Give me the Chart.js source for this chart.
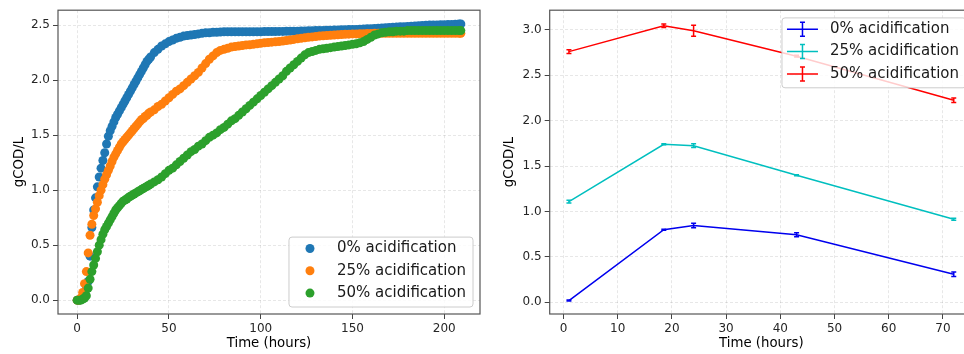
<!DOCTYPE html>
<html>
<head>
<meta charset="utf-8">
<script src="https://cdn.jsdelivr.net/npm/chart.js@4.4.1/dist/chart.umd.min.js"></script>
<style>
    html, body { margin: 0; padding: 0; background: #fff; overflow: hidden; width: 964px; height: 354px; }
    #left { position: absolute; left: 0; top: 0; }
    #right { position: absolute; left: 490px; top: 0; }
</style>
</head>
<body>
<canvas id="left" width="490" height="354"></canvas>
<canvas id="right" width="493" height="354"></canvas>
<script>
// left panel: cumulative gCOD/L over time
const hours = [0,1,2,3,4,5,6,7,8,9,10,11,12,13,14,15,16,17,18,19,20,21,22,23,24,25,26,27,28,29,30,31,32,33,34,35,36,37,38,39,40,
    42,44,46,48,50,52,54,56,58,60,62,64,66,68,70,72,74,76,78,80,
    82,84,86,88,90,92,94,96,98,100,102,104,106,108,110,112,114,116,118,120,
    122,124,126,128,130,132,134,136,138,140,142,144,146,148,150,152,154,156,158,160,
    162,164,166,168,170,172,174,176,178,180,182,184,186,188,190,192,194,196,198,200,
    202,204,206,208,209];

const acid0 = [0.00,0.00,0.01,0.02,0.05,0.10,0.17,0.40,0.66,0.82,0.93,
    1.03,1.12,1.20,1.27,1.34,1.42,1.49,1.54,1.58,1.62,
    1.66,1.69,1.72,1.75,1.78,1.81,1.84,1.87,1.90,1.93,
    1.96,1.99,2.02,2.05,2.08,2.11,2.14,2.17,2.19,2.21,
    2.25,2.28,2.31,2.33,2.35,2.365,2.38,2.39,2.40,2.405,
    2.41,2.415,2.42,2.425,2.43,2.43,2.435,2.435,2.437,2.44,
    2.44,2.44,2.44,2.44,2.44,2.44,2.44,2.44,2.44,2.44,
    2.441,2.441,2.442,2.442,2.443,2.443,2.444,2.444,2.445,2.445,
    2.446,2.447,2.448,2.449,2.45,2.451,2.452,2.453,2.454,2.455,
    2.456,2.457,2.458,2.459,2.46,2.461,2.462,2.464,2.466,2.468,
    2.47,2.472,2.474,2.476,2.478,2.48,2.482,2.484,2.486,2.488,
    2.49,2.492,2.494,2.496,2.498,2.50,2.50,2.502,2.503,2.504,
    2.505,2.506,2.508,2.51,2.51];

const acid25 = [0.00,0.00,0.02,0.07,0.15,0.26,0.43,0.59,0.69,0.77,0.83,
    0.89,0.95,1.00,1.05,1.10,1.14,1.18,1.22,1.26,1.30,
    1.33,1.36,1.39,1.42,1.44,1.46,1.48,1.50,1.52,1.54,
    1.56,1.58,1.60,1.62,1.64,1.65,1.67,1.68,1.70,1.71,
    1.73,1.76,1.78,1.81,1.84,1.87,1.90,1.92,1.95,1.98,
    2.01,2.04,2.07,2.11,2.15,2.19,2.22,2.25,2.27,2.28,
    2.29,2.30,2.305,2.31,2.315,2.32,2.322,2.325,2.33,2.335,
    2.34,2.342,2.345,2.348,2.35,2.355,2.36,2.365,2.37,2.375,
    2.38,2.385,2.39,2.393,2.396,2.40,2.403,2.406,2.408,2.41,
    2.412,2.414,2.416,2.418,2.42,2.42,2.421,2.422,2.423,2.424,
    2.425,2.425,2.425,2.425,2.425,2.425,2.425,2.425,2.425,2.425,
    2.425,2.425,2.425,2.425,2.425,2.425,2.425,2.425,2.425,2.425,
    2.425,2.425,2.425,2.425,2.425];

const acid50 = [0.00,0.00,0.00,0.01,0.02,0.04,0.11,0.19,0.26,0.32,0.38,
    0.44,0.50,0.55,0.60,0.64,0.67,0.70,0.73,0.76,0.79,
    0.82,0.84,0.86,0.88,0.90,0.91,0.92,0.935,0.945,0.955,
    0.965,0.975,0.985,0.995,1.005,1.015,1.025,1.035,1.045,1.055,
    1.075,1.095,1.12,1.15,1.18,1.20,1.23,1.26,1.29,1.32,
    1.35,1.37,1.40,1.42,1.45,1.48,1.50,1.52,1.55,1.57,
    1.60,1.63,1.65,1.68,1.71,1.74,1.77,1.80,1.83,1.86,
    1.89,1.92,1.95,1.98,2.01,2.04,2.08,2.11,2.14,2.17,
    2.20,2.23,2.25,2.26,2.27,2.28,2.285,2.29,2.295,2.30,
    2.305,2.31,2.315,2.32,2.325,2.33,2.34,2.35,2.37,2.39,
    2.41,2.42,2.43,2.435,2.44,2.44,2.445,2.445,2.445,2.45,
    2.45,2.45,2.45,2.45,2.45,2.45,2.45,2.45,2.45,2.45,
    2.45,2.45,2.45,2.45,2.45];

// right panel: measured points with error bars
const sampleHours = [1, 18.5, 24, 43, 72];
const cod0 = [0.02, 0.80, 0.845, 0.745, 0.31];
const err0 = [0.006, 0.006, 0.025, 0.022, 0.025];
const cod25 = [1.11, 1.74, 1.725, 1.40, 0.915];
const err25 = [0.015, 0.005, 0.02, 0.005, 0.012];
const cod50 = [2.76, 3.045, 2.99, 2.71, 2.225];
const err50 = [0.02, 0.02, 0.06, 0.01, 0.025];

const seriesLabels = ['0% acidification', '25% acidification', '50% acidification'];

const leftXTicks = [0, 50, 100, 150, 200];
const leftYTicks = [0, 0.5, 1.0, 1.5, 2.0, 2.5];
const rightXTicks = [0, 10, 20, 30, 40, 50, 60, 70];
const rightYTicks = [0, 0.5, 1.0, 1.5, 2.0, 2.5, 3.0];

const FONT = '"DejaVu Sans", sans-serif';

function axis(tickList, min, max, title, fmt, size) {
    return {
        type: 'linear',
        min, max,
        afterBuildTicks: s => { s.ticks = tickList.map(v => ({ value: v })); },
        afterFit: s => {
            if (s.isHorizontal()) s.height = size;
            else s.width = size;
        },
        ticks: { font: { family: FONT, size: 12 }, color: '#262626', padding: 3, callback: fmt },
        grid: { color: 'rgba(0,0,0,0.12)', lineWidth: 0.8, tickColor: '#444', tickLength: 5, tickWidth: 1 },
        border: { display: false, dash: [3, 2] },
        title: {
            display: true, text: title, color: '#000',
            font: { family: FONT, size: 13.3 },
            padding: { top: 12, bottom: 2 }
        }
    };
}

const frame = {
    id: 'frame',
    afterDatasetsDraw(chart) {
        const { ctx, chartArea: a } = chart;
        ctx.save();
        ctx.strokeStyle = '#555';
        ctx.lineWidth = 1.2;
        ctx.strokeRect(a.left, a.top, a.right - a.left, a.bottom - a.top);
        ctx.restore();
    }
};

const errorBars = {
    id: 'errorBars',
    afterDatasetsDraw(chart) {
        const { ctx, scales: { x, y } } = chart;
        ctx.save();
        chart.data.datasets.forEach(ds => {
            if (!ds.errors) return;
            ctx.strokeStyle = ds.borderColor;
            ctx.lineWidth = 1.5;
            ds.data.forEach((p, i) => {
                const e = ds.errors[i];
                const px = x.getPixelForValue(p.x);
                const top = y.getPixelForValue(p.y + e);
                const bot = y.getPixelForValue(p.y - e);
                ctx.beginPath();
                ctx.moveTo(px, top); ctx.lineTo(px, bot);
                ctx.moveTo(px - 2.5, top); ctx.lineTo(px + 2.5, top);
                ctx.moveTo(px - 2.5, bot); ctx.lineTo(px + 2.5, bot);
                ctx.stroke();
            });
        });
        ctx.restore();
    }
};

// matplotlib-style legend box drawn inside the plot area
const boxLegend = {
    id: 'boxLegend',
    afterDatasetsDraw(chart, args, opts) {
        const { ctx, chartArea: a } = chart;
        const sets = chart.data.datasets;
        ctx.save();
        ctx.font = '15px ' + FONT;
        const textW = Math.max(...sets.map(d => ctx.measureText(d.label).width));
        const rowH = 22.3;
        const w = 48 + textW + 7;
        const h = sets.length * rowH + 3;
        const x = a.right - 7 - w;
        const y = opts.corner === 'top' ? a.top + 7.7 : a.bottom - 7 - h;

        ctx.beginPath();
        ctx.roundRect(x, y, w, h, 3);
        ctx.fillStyle = 'rgba(255,255,255,0.8)';
        ctx.fill();
        ctx.strokeStyle = '#cccccc';
        ctx.lineWidth = 1;
        ctx.stroke();

        sets.forEach((d, i) => {
            const cy = y + 11.4 + i * rowH;
            if (opts.kind === 'dot') {
                ctx.beginPath();
                ctx.arc(x + 21, cy, 4.5, 0, Math.PI * 2);
                ctx.fillStyle = d.backgroundColor;
                ctx.fill();
            } else {
                const cx = x + 20.5;
                ctx.strokeStyle = d.borderColor;
                ctx.lineWidth = 1.5;
                ctx.beginPath();
                ctx.moveTo(x + 5, cy); ctx.lineTo(x + 36, cy);
                ctx.moveTo(cx, cy - 7); ctx.lineTo(cx, cy + 7);
                ctx.moveTo(cx - 2.5, cy - 7); ctx.lineTo(cx + 2.5, cy - 7);
                ctx.moveTo(cx - 2.5, cy + 7); ctx.lineTo(cx + 2.5, cy + 7);
                ctx.stroke();
            }
            ctx.fillStyle = '#1a1a1a';
            ctx.textBaseline = 'middle';
            ctx.textAlign = 'left';
            ctx.fillText(d.label, x + 48, cy);
        });
        ctx.restore();
    }
};

const fmt1 = v => v.toFixed(1);
const fmt0 = v => String(v);

// left scatter
const scatterColors = ['#1f77b4', '#ff7f0e', '#2ca02c'];
const scatterSeries = [acid0, acid25, acid50];

new Chart(document.getElementById('left'), {
    type: 'scatter',
    data: {
        datasets: scatterSeries.map((vals, i) => ({
            label: seriesLabels[i],
            data: hours.map((h, j) => ({ x: h, y: vals[j] })),
            backgroundColor: scatterColors[i],
            borderWidth: 0,
            pointRadius: 4.5,
            pointHoverRadius: 4.5,
            order: 3 - i
        }))
    },
    options: {
        responsive: false,
        animation: false,
        layout: { padding: { top: 8, right: 10, left: 0, bottom: 0 } },
        scales: {
            x: axis(leftXTicks, -10.45, 219.45, 'Time (hours)', fmt0, 40),
            y: axis(leftYTicks, -0.1255, 2.6355, 'gCOD/L', fmt1, 58)
        },
        plugins: {
            legend: { display: false },
            tooltip: { enabled: false },
            boxLegend: { corner: 'bottom', kind: 'dot' }
        }
    },
    plugins: [frame, boxLegend]
});

// right line chart with error bars
const lineColors = ['#0000ee', '#00bfbf', '#ff0000'];
const lineSeries = [cod0, cod25, cod50];
const lineErrors = [err0, err25, err50];

new Chart(document.getElementById('right'), {
    type: 'line',
    data: {
        datasets: lineSeries.map((vals, i) => ({
            label: seriesLabels[i],
            data: sampleHours.map((h, j) => ({ x: h, y: vals[j] })),
            errors: lineErrors[i],
            borderColor: lineColors[i],
            backgroundColor: lineColors[i],
            borderWidth: 1.5,
            pointRadius: 0,
            tension: 0,
            fill: false
        }))
    },
    options: {
        responsive: false,
        animation: false,
        layout: { padding: { top: 9, right: 10, left: 0, bottom: 0 } },
        scales: {
            x: axis(rightXTicks, -2.55, 75.55, 'Time (hours)', fmt0, 40),
            y: axis(rightYTicks, -0.128, 3.216, 'gCOD/L', fmt1, 59.7)
        },
        plugins: {
            legend: { display: false },
            tooltip: { enabled: false },
            boxLegend: { corner: 'top', kind: 'line' }
        }
    },
    plugins: [errorBars, frame, boxLegend]
});
</script>
</body>
</html>
